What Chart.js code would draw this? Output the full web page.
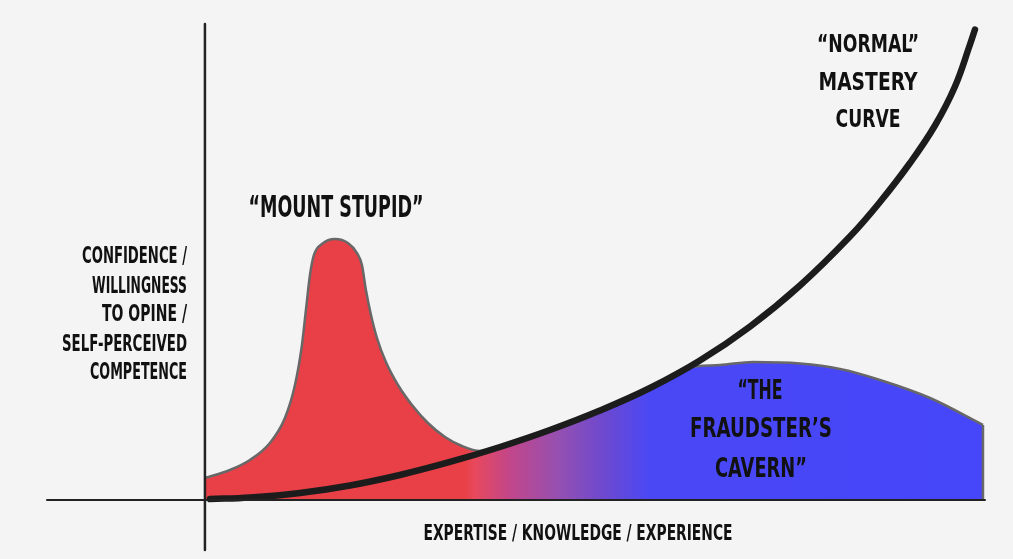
<!DOCTYPE html>
<html>
<head>
<meta charset="utf-8">
<script src="https://cdn.jsdelivr.net/npm/chart.js@4.4.1/dist/chart.umd.min.js"></script>
<style>
  html, body { margin: 0; padding: 0; background: #f4f4f4; }
  #wrap { width: 1013px; height: 559px; position: relative; }
</style>
</head>
<body>
<div id="wrap"><canvas id="c"></canvas></div>
<script>
// Confidence envelope (Mount Stupid, valley along the mastery curve, Fraudster's Cavern)
const areaX = [0, 3.21, 5.78, 8.35, 10.28, 11.57, 12.47, 12.98, 13.50, 14.01, 15.04, 16.71, 18.38, 19.54, 20.18, 20.69, 21.34, 22.11, 23.26, 24.81, 26.61, 28.66, 30.85, 33.03, 35.35, 37.92, 44.34, 50.77, 57.20, 61.95, 66.20, 70.44, 76.48, 81.62, 86.76, 93.19, 100];
const areaY = [4.68, 6.38, 8.51, 12.13, 17.45, 24.47, 32.98, 40.43, 47.87, 52.13, 54.47, 55.53, 54.68, 52.55, 50.0, 44.68, 39.36, 34.47, 29.36, 24.47, 20.21, 16.38, 13.40, 11.49, 10.43, 11.28, 14.89, 19.04, 23.83, 28.17, 28.72, 29.36, 29.04, 27.87, 25.53, 21.70, 15.96];
// right-hand cliff of the cavern
const edgeX = [100, 100];
const edgeY = [15.96, 0];
// "Normal" mastery curve
const curveX = [0.64, 5.78, 12.21, 18.64, 25.06, 31.49, 37.92, 44.34, 50.77, 57.20, 63.62, 70.05, 76.48, 82.90, 86.76, 90.62, 93.83, 96.40, 98.33, 98.97];
const curveY = [0.19, 0.53, 1.49, 3.09, 5.32, 8.09, 11.28, 14.89, 19.04, 23.83, 29.68, 36.91, 45.64, 56.06, 63.40, 71.70, 79.68, 87.98, 96.91, 100.11];
// gradient stops along the expertise axis (value, colour)
const gradStops = [[33.4, '#e84046'], [34.6, '#e8495b'], [39.2, '#c2468a'], [45.6, '#9450b2'], [51.0, '#6f49cd'], [57.2, '#4a48f5'], [100, '#4646fa']];

const yTitle = ['CONFIDENCE /', 'WILLINGNESS', 'TO OPINE /', 'SELF-PERCEIVED', 'COMPETENCE'];
const xTitle = 'EXPERTISE / KNOWLEDGE / EXPERIENCE';
const labelMount = '“MOUNT STUPID”';
const labelNormal = ['“NORMAL”', 'MASTERY', 'CURVE'];
const labelCavern = ['“THE', 'FRAUDSTER’S', 'CAVERN”'];

const areaData = areaX.map((x, i) => ({ x, y: areaY[i] }));
const edgeData = edgeX.map((x, i) => ({ x, y: edgeY[i] }));
const curveData = curveX.map((x, i) => ({ x, y: curveY[i] }));

const FONT = '"Liberation Sans Narrow", "DejaVu Sans Condensed", "Liberation Sans", sans-serif';

function gradientFill(ctx) {
  const chart = ctx.chart;
  const area = chart.chartArea;
  if (!area) return '#e84046';
  const sx = chart.scales.x;
  const x0 = sx.getPixelForValue(0), x1 = sx.getPixelForValue(100);
  const g = chart.ctx.createLinearGradient(x0, 0, x1, 0);
  gradStops.forEach(([v, c]) => g.addColorStop(v / 100, c));
  return g;
}

const axesPlugin = {
  id: 'axesLines',
  afterDatasetsDraw(chart) {
    const { ctx, chartArea: a, scales } = chart;
    const px = scales.x.getPixelForValue(0);
    const py = scales.y.getPixelForValue(0);
    ctx.save();
    ctx.strokeStyle = '#222';
    ctx.lineCap = 'round';
    ctx.lineWidth = 2.5;
    ctx.beginPath(); ctx.moveTo(px, a.top); ctx.lineTo(px, a.bottom); ctx.stroke();
    ctx.lineWidth = 2;
    ctx.beginPath(); ctx.moveTo(a.left, py); ctx.lineTo(a.right, py); ctx.stroke();
    ctx.restore();
  }
};

const textPlugin = {
  id: 'texts',
  afterDraw(chart) {
    const ctx = chart.ctx;
    ctx.save();
    ctx.fillStyle = '#111';
    ctx.textBaseline = 'middle';
    function put(t, x, y, size, w, align) {
      ctx.font = '600 ' + size + 'px ' + FONT;
      ctx.textAlign = align || 'center';
      ctx.fillText(t, x, y, w);
    }
    const yt = [[257, 105], [287, 95], [315, 85], [345, 125], [373, 97]];
    yTitle.forEach((t, i) => put(t, 187, yt[i][0], 23, yt[i][1], 'right'));
    put(labelMount, 336, 209, 30, 175);
    const nt = [[45, 102], [83, 99], [120, 65]];
    labelNormal.forEach((t, i) => put(t, 868, nt[i][0], 25, nt[i][1]));
    const ct = [[392, 45, 760], [430, 142, 761], [470, 92, 761]];
    labelCavern.forEach((t, i) => put(t, ct[i][2], ct[i][0], 26, ct[i][1]));
    put(xTitle, 578, 535, 21, 309);
    ctx.restore();
  }
};

new Chart(document.getElementById('c'), {
  type: 'line',
  data: {
    datasets: [
      {
        label: 'Mastery curve',
        data: curveData,
        borderColor: '#1c1c1c',
        borderWidth: 6.5,
        borderCapStyle: 'round',
        fill: false,
        pointRadius: 0,
        tension: 0.4,
        clip: false,
        order: 0
      },
      {
        label: 'Cavern edge',
        data: edgeData,
        borderColor: '#686868',
        borderWidth: 2.5,
        fill: false,
        pointRadius: 0,
        tension: 0,
        clip: false,
        order: 1
      },
      {
        label: 'Confidence',
        data: areaData,
        borderColor: '#686868',
        borderWidth: 2.5,
        backgroundColor: gradientFill,
        fill: 'origin',
        pointRadius: 0,
        tension: 0.4,
        cubicInterpolationMode: 'monotone',
        clip: false,
        order: 2
      }
    ]
  },
  options: {
    responsive: true,
    maintainAspectRatio: false,
    animation: false,
    layout: { padding: { left: 47, right: 28, top: 24, bottom: 9 } },
    scales: {
      x: { type: 'linear', display: false, min: -20.3, max: 100.26 },
      y: { type: 'linear', display: false, min: -10.64, max: 101.28 }
    },
    plugins: { legend: { display: false }, tooltip: { enabled: false } }
  },
  plugins: [axesPlugin, textPlugin]
});
</script>
</body>
</html>
